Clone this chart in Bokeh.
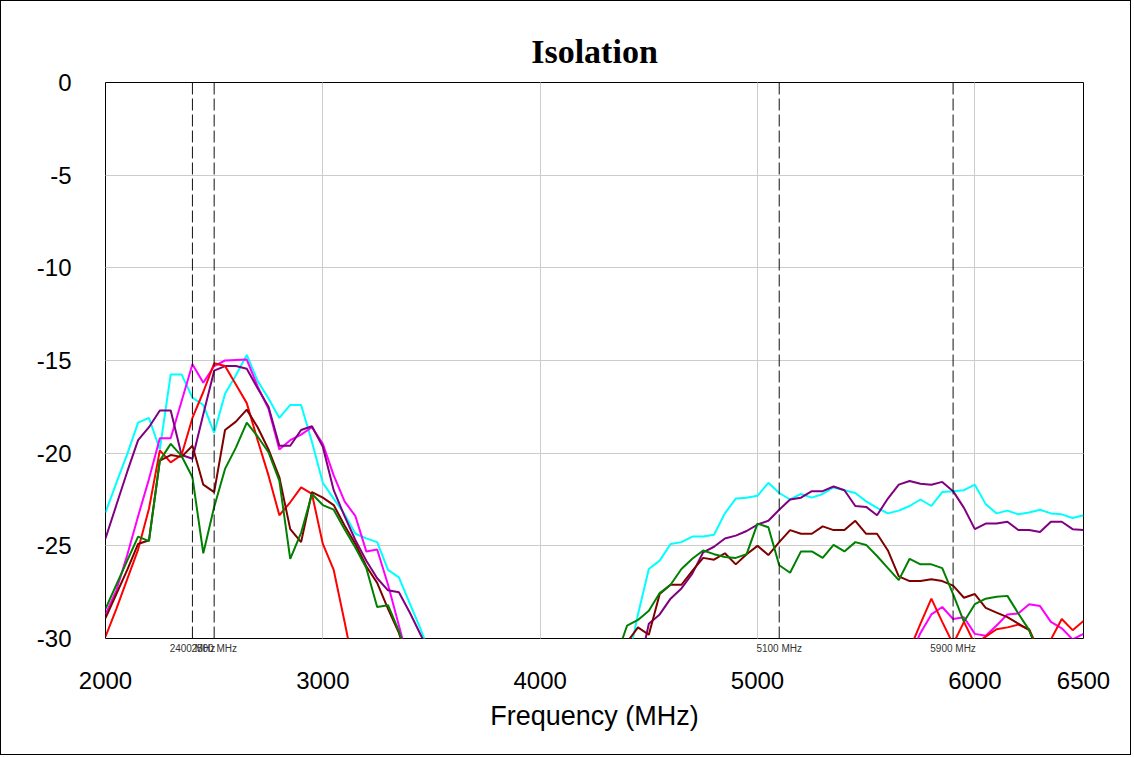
import math
from bokeh.plotting import figure
from bokeh.models import Span, FixedTicker, Range1d, LinearAxis, Grid
from bokeh.embed import file_html
from bokeh.resources import INLINE

nan = float("nan")

# ---------------- data ----------------
freq_low = list(range(2000, 3501, 50))     # 31 sweep points
freq_high = list(range(4350, 6501, 50))    # 44 sweep points

x_ticks = [2000, 3000, 4000, 5000, 6000, 6500]
y_ticks = [-30, -25, -20, -15, -10, -5, 0]
markers = [2400, 2500, 5100, 5900]

cyan_low = [-23.2, -21.6, -20.05, -18.35, -18.1, -19.8, -15.75, -15.75, -17.0, -17.4, -18.9,
            -16.8, -15.8, -14.7, -16.1, -17.05, -18.1, -17.4, -17.4, -19.4, -21.6, -22.45,
            -23.3, -24.35, -24.6, -24.8, -26.3, -26.7, -28.1, -29.5, -31.0]
cyan_high = [-33.0, -31.5, -28.7, -26.25, -25.8, -24.9, -24.8, -24.5, -24.5, -24.4,
             -23.25, -22.45, -22.4, -22.3, -21.6, -22.15, -22.5, -22.2, -22.4, -22.2,
             -21.85, -22.0, -22.15, -22.6, -22.95, -23.25, -23.1, -22.85, -22.5, -22.85,
             -22.1, -22.05, -22.0, -21.7, -22.75, -23.25, -23.1, -23.3, -23.2, -23.05,
             -23.25, -23.3, -23.5, -23.35]

purple_low = [-24.6, -22.8, -21.0, -19.3, -18.6, -17.7, -17.7, -20.1, -20.3, -17.9, -15.55,
              -15.3, -15.3, -15.45, -16.5, -17.5, -19.6, -19.6, -18.75, -18.55, -19.65, -22.0,
              -23.4, -24.7, -25.8, -26.75, -27.4, -27.5, -28.6, -29.8, -31.0]
purple_high = [-34.0, -33.0, -31.9, -29.2, -28.7, -27.85, -27.3, -26.5, -25.35, -25.05,
               -24.6, -24.45, -24.2, -23.85, -23.65, -23.05, -22.5, -22.4, -22.05, -22.05,
               -21.8, -22.0, -22.85, -22.9, -23.35, -22.45, -21.7, -21.5, -21.65, -21.7,
               -21.55, -22.05, -22.95, -24.1, -23.8, -23.8, -23.7, -24.15, -24.15, -24.25,
               -23.7, -23.7, -24.1, -24.15]

magenta_low = [-28.7, -27.4, -25.5, -23.4, -21.4, -19.2, -19.2, -17.2, -15.2, -16.2, -15.3,
               -15.0, -14.97, -14.95, -16.4, -17.6, -19.8, -19.3, -19.0, -18.6, -19.5, -21.2,
               -22.6, -23.4, -25.3, -25.2, -27.1, -29.3, -31.5, nan, nan]
magenta_high = [nan] * 27 + [-31.0, -29.7, -28.7, -28.3, -28.95, -28.85, -29.75, -29.85,
                             -29.3, -28.7, -28.65, -28.15, -28.25, -29.1, -29.45, -30.05, -29.75]

red_low = [-29.9, -28.4, -26.8, -25.2, -23.0, -19.85, -20.5, -20.1, -18.1, -16.7, -15.15,
           -15.3, -16.3, -17.3, -19.3, -21.2, -23.35, -22.65, -21.85, -22.2, -24.9, -26.3,
           -29.1, -32.0] + [nan] * 7
red_high = [nan] * 27 + [-30.6, -29.2, -27.85, -29.1, -30.3, -29.1, -30.3, -29.9, -29.5,
                         -29.4, -29.25, -29.5, -30.8, -30.05, -28.95, -29.55, -29.05]

darkred_low = [-28.9, -27.6, -26.3, -24.9, -24.7, -20.4, -20.1, -20.2, -19.6, -21.7, -22.1,
               -18.75, -18.3, -17.65, -18.6, -19.8, -21.3, -24.1, -24.8, -22.1, -22.4, -22.8,
               -23.9, -24.9, -26.1, -27.0, -28.4, -29.7, -31.5, nan, nan]
darkred_high = [-31.0, -30.2, -29.4, -29.8, -27.6, -27.1, -27.1, -26.35, -25.65, -25.75,
                -25.4, -26.0, -25.45, -25.0, -25.5, -24.8, -24.15, -24.35, -24.35, -23.95,
                -24.15, -24.15, -23.65, -24.35, -24.35, -25.25, -26.65, -26.9, -26.9, -26.8,
                -26.9, -27.15, -27.8, -27.6, -28.35, -28.6, -28.85, -29.2, -29.55, -31.0,
                nan, nan, nan, nan]

green_low = [-28.4, -27.1, -25.8, -24.5, -24.75, -20.4, -19.5, -20.15, -21.3, -25.4, -22.9,
             -20.85, -19.7, -18.35, -19.1, -19.95, -21.5, -25.7, -24.3, -22.2, -22.8, -23.05,
             -24.1, -25.1, -26.2, -28.3, -28.2, -29.6, -31.5, nan, nan]
green_high = [-31.0, -29.3, -29.0, -28.5, -27.55, -27.1, -26.25, -25.7, -25.25, -25.45,
              -25.6, -25.65, -25.45, -23.8, -24.0, -26.05, -26.45, -25.3, -25.3, -25.65,
              -24.95, -25.3, -24.8, -24.95, -25.55, -26.2, -26.85, -25.7, -26.0, -26.0,
              -26.2, -27.6, -29.1, -28.15, -27.85, -27.75, -27.7, -28.65, -29.55, -31.0,
              nan, nan, nan, nan]

series = [
    ("#00FFFF", cyan_low, cyan_high),
    ("#FF00FF", magenta_low, magenta_high),
    ("#800080", purple_low, purple_high),
    ("#FF0000", red_low, red_high),
    ("#800000", darkred_low, darkred_high),
    ("#008000", green_low, green_high),
]

SANS = "Liberation Sans"

# ---------------- figure ----------------
p = figure(frame_width=978, frame_height=556,
           min_border_left=104, min_border_right=47, min_border_top=81, min_border_bottom=116,
           x_range=Range1d(2000, 6500), y_range=Range1d(-30, 0),
           x_axis_location=None, y_axis_location=None,
           output_backend="svg", toolbar_location=None, title="Isolation")
p.styles = {"border": "1px solid black"}
p.background_fill_color = "white"
p.border_fill_color = "white"
p.outline_line_color = "black"
p.outline_line_width = 1
p.outline_line_alpha = 1.0

p.title.text_font = "Liberation Serif"
p.title.text_font_style = "bold"
p.title.text_font_size = "34px"
p.title.align = "center"
p.title.text_color = "black"
p.title.standoff = 25

# marker label axis (closest to frame)
mk_axis = LinearAxis(ticker=FixedTicker(ticks=markers),
                     major_label_overrides={m: f"{m} MHz" for m in markers})
mk_axis.axis_line_color = None
mk_axis.major_tick_line_color = None
mk_axis.minor_tick_line_color = None
mk_axis.major_tick_out = 0
mk_axis.major_tick_in = 0
mk_axis.major_label_text_font = SANS
mk_axis.major_label_text_font_size = "10px"
mk_axis.major_label_text_color = "#333333"
mk_axis.major_label_standoff = 4
p.add_layout(mk_axis, "below")

x_axis = LinearAxis(ticker=FixedTicker(ticks=x_ticks),
                    major_label_overrides={t: str(t) for t in x_ticks})
x_axis.axis_line_color = None
x_axis.major_tick_line_color = None
x_axis.minor_tick_line_color = None
x_axis.major_tick_out = 0
x_axis.major_tick_in = 0
x_axis.major_label_text_font = SANS
x_axis.major_label_text_font_size = "24px"
x_axis.major_label_text_color = "black"
x_axis.major_label_standoff = 15
x_axis.axis_label = "Frequency (MHz)"
x_axis.axis_label_text_font = SANS
x_axis.axis_label_text_font_style = "normal"
x_axis.axis_label_text_font_size = "27px"
x_axis.axis_label_text_color = "black"
x_axis.axis_label_standoff = 9
p.add_layout(x_axis, "below")

y_axis = LinearAxis(ticker=FixedTicker(ticks=y_ticks),
                    major_label_overrides={t: str(t) for t in y_ticks})
y_axis.axis_line_color = None
y_axis.major_tick_line_color = None
y_axis.minor_tick_line_color = None
y_axis.major_label_text_font = SANS
y_axis.major_label_text_font_size = "24px"
y_axis.major_label_text_color = "black"
y_axis.major_label_text_align = "center"
y_axis.major_label_standoff = 28
p.add_layout(y_axis, "left")

xg = Grid(dimension=0, ticker=FixedTicker(ticks=[3000, 4000, 5000, 6000]),
          grid_line_color="#cccccc", grid_line_width=1)
yg = Grid(dimension=1, ticker=FixedTicker(ticks=[-25, -20, -15, -10, -5]),
          grid_line_color="#cccccc", grid_line_width=1)
p.add_layout(xg)
p.add_layout(yg)

for col, lo, hi in series:
    p.line(freq_low, lo, line_color=col, line_width=2)
    p.line(freq_high, hi, line_color=col, line_width=2)

for m in markers:
    p.add_layout(Span(location=m, dimension="height", line_color="#111111",
                      line_width=1, line_dash="12 4"))

open("out.html", "w").write(file_html(p, INLINE))
